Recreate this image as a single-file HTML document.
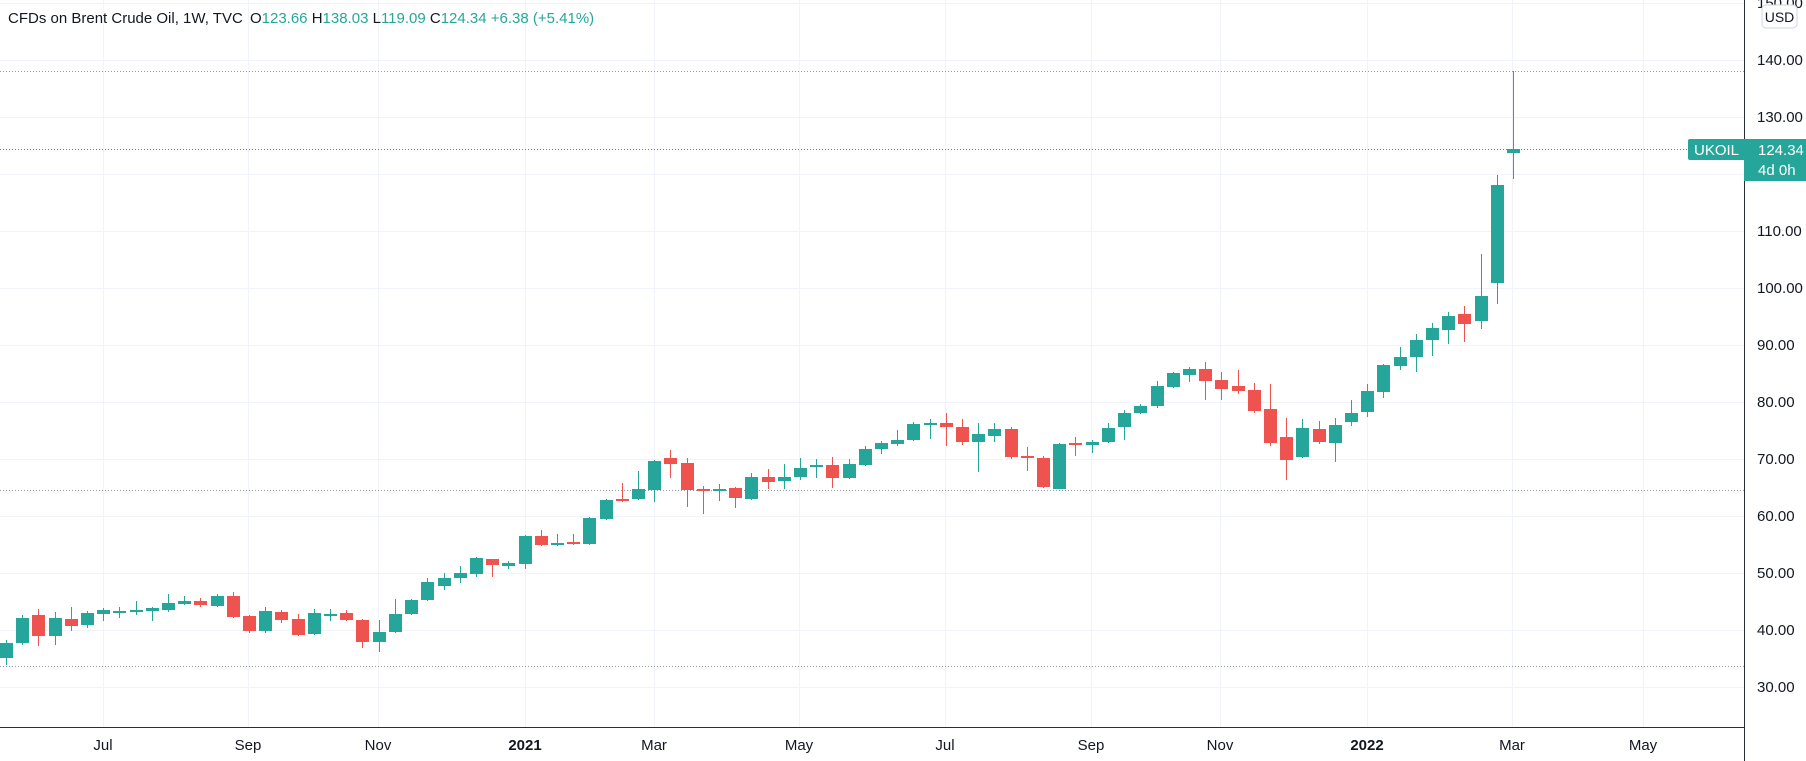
<!DOCTYPE html>
<html><head><meta charset="utf-8"><style>
html,body{margin:0;padding:0;background:#fff;}
body{width:1806px;height:761px;overflow:hidden;position:relative;font-family:"Liberation Sans",sans-serif;}
svg{position:absolute;left:0;top:0;}
</style></head><body>
<svg id="c" width="1806" height="761" xmlns="http://www.w3.org/2000/svg" font-family="Liberation Sans, sans-serif">
<g id="grid" stroke="#f0f3fa" stroke-width="1"></g>
<g id="lines"></g>
<g id="candles"></g>
<line x1="1744.5" y1="0" x2="1744.5" y2="761" stroke="#2a2e39" stroke-width="1"/>
<line x1="0" y1="727.5" x2="1744" y2="727.5" stroke="#2a2e39" stroke-width="1"/>
<g id="plab" font-size="15" fill="#131722"></g>
<g id="tlab" font-size="15" fill="#131722" text-anchor="middle"></g>
<rect x="1762" y="5" width="35" height="23" rx="4" fill="#fff" stroke="#d1d4dc"/>
<text x="1779.5" y="22" font-size="14" fill="#131722" text-anchor="middle">USD</text>
<rect x="1688" y="139" width="60" height="21" rx="2" fill="#26a69a"/>
<rect x="1744" y="139" width="62" height="42" fill="#26a69a"/>
<text x="1694" y="155" font-size="15" fill="#fff">UKOIL</text>
<text x="1758" y="155" font-size="15" fill="#fff">124.34</text>
<text x="1758" y="175" font-size="15" fill="#fff">4d 0h</text>
<text x="8" y="23" font-size="15" fill="#131722">CFDs on Brent Crude Oil, 1W, TVC <tspan dx="3">O</tspan><tspan fill="#26a69a">123.66</tspan> H<tspan fill="#26a69a">138.03</tspan> L<tspan fill="#26a69a">119.09</tspan> C<tspan fill="#26a69a">124.34</tspan> <tspan fill="#26a69a">+6.38 (+5.41%)</tspan></text>
</svg>
<script>
var NS="http://www.w3.org/2000/svg";
function el(p,t,a,txt){var e=document.createElementNS(NS,t);for(var k in a)e.setAttribute(k,a[k]);if(txt!==undefined)e.textContent=txt;document.getElementById(p).appendChild(e);return e;}
var vx=[103,248,378,525,654,799,945,1091,1220,1367,1512,1643];
var vl=["Jul","Sep","Nov","2021","Mar","May","Jul","Sep","Nov","2022","Mar","May"];
vx.forEach(function(x,i){el("grid","line",{x1:x+.5,y1:0,x2:x+.5,y2:727});
 var t=el("tlab","text",{x:x,y:750},vl[i]);if(vl[i][0]=="2")t.setAttribute("font-weight","bold");});
for(var p=150;p>=20;p-=10){var y=60+(140-p)*5.7;if(y>727)continue;el("grid","line",{x1:0,y1:y+.5,x2:1744,y2:y+.5});
 el("plab","text",{x:1757,y:y+5},p.toFixed(2));}
[[71,"#9598a1"],[149,"#26a69a"],[490,"#9598a1"],[666,"#9598a1"]].forEach(function(d){
 el("lines","line",{x1:0,y1:d[0]+.5,x2:1744,y2:d[0]+.5,stroke:d[1],"stroke-width":1,"stroke-dasharray":"1 2"});});
// [top,bottom,high,low,color]
var D=[
[643,658,640,665,'g'],[618,643,615,645,'g'],[615,636,609,646,'r'],[618,636,612,645,'g'],[619,626,607,631,'r'],
[613,625,611,628,'g'],[610,614,608,621,'g'],[611,612,607,618,'g'],[610,612,601,615,'g'],[608,611,607,621,'g'],
[603,610,594,612,'g'],[601,604,596,605,'g'],[601,605,598,607,'r'],[596,606,594,607,'g'],[596,617,592,618,'r'],
[616,631,615,633,'r'],[611,631,607,633,'g'],[612,620,610,623,'r'],[619,635,614,636,'r'],[613,634,609,635,'g'],
[614,615,609,621,'g'],[613,620,610,621,'r'],[620,642,619,648,'r'],[632,642,620,652,'g'],[614,632,599,633,'g'],
[600,614,599,615,'g'],[582,600,578,601,'g'],[578,586,573,590,'g'],[573,578,566,583,'g'],[558,574,557,577,'g'],
[559,565,559,577,'r'],[563,566,561,569,'g'],[536,564,535,569,'g'],[536,545,530,546,'r'],[543,545,534,546,'g'],
[542,544,534,545,'r'],[518,544,517,545,'g'],[500,519,499,520,'g'],[499,501,483,502,'r'],[489,499,471,500,'g'],
[461,490,460,502,'g'],[458,464,450,478,'r'],[463,490,458,507,'r'],[489,491,486,514,'r'],[489,491,484,501,'g'],
[488,498,487,508,'r'],[477,499,473,500,'g'],[477,482,469,489,'r'],[477,481,464,489,'g'],[468,477,458,480,'g'],
[465,467,459,478,'g'],[465,478,457,488,'r'],[464,478,459,479,'g'],[449,465,446,466,'g'],[443,449,441,454,'g'],
[440,444,430,446,'g'],[424,440,422,441,'g'],[423,425,419,439,'g'],[423,427,413,446,'r'],[427,442,419,445,'r'],
[434,442,423,472,'g'],[429,436,423,442,'g'],[429,457,427,459,'r'],[456,458,447,471,'r'],[458,487,456,488,'r'],
[444,489,443,489,'g'],[443,445,437,456,'r'],[442,445,440,453,'g'],[428,442,423,443,'g'],[413,427,410,440,'g'],
[406,413,404,414,'g'],[386,406,381,408,'g'],[373,387,372,388,'g'],[369,375,367,382,'g'],[369,381,362,400,'r'],
[380,389,372,400,'r'],[386,391,370,394,'r'],[390,411,383,413,'r'],[409,443,384,446,'r'],[437,460,418,480,'r'],
[428,457,419,458,'g'],[429,442,421,444,'r'],[425,443,418,462,'g'],[413,422,400,426,'g'],[391,412,384,417,'g'],
[365,392,364,398,'g'],[357,366,347,370,'g'],[340,357,334,372,'g'],[328,340,323,356,'g'],[316,330,312,344,'g'],
[314,324,306,342,'r'],[296,321,254,329,'g'],[185,283,175,304,'g'],[149,153,71,179,'g']];
var step=(1513-6)/(D.length-1);
D.forEach(function(d,i){var x=Math.round(6+i*step);var c=d[4]=='g'?'#26a69a':'#ef5350';
 el("candles","line",{x1:x+.5,y1:d[2],x2:x+.5,y2:d[3],stroke:c,"stroke-width":1});
 el("candles","rect",{x:x-6,y:d[0],width:13,height:Math.max(2,d[1]-d[0]),fill:c});});
</script>
</body></html>
